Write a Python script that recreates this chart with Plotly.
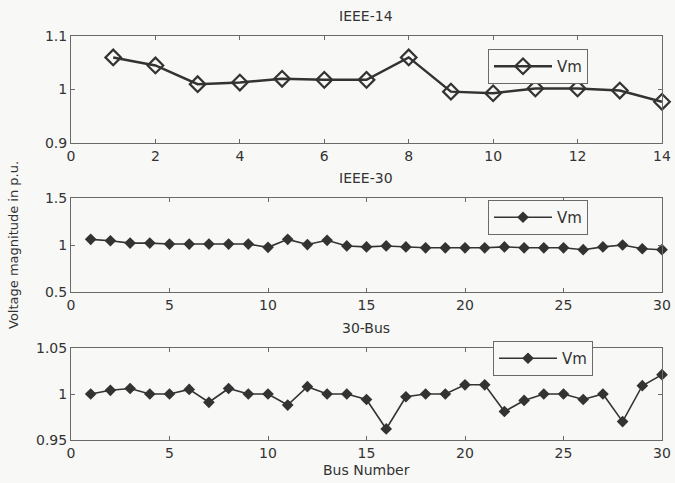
import plotly.graph_objects as go

# Bus voltage magnitudes (p.u.)
bus14 = list(range(1, 15))
vm14 = [1.060, 1.045, 1.010, 1.013, 1.020, 1.018, 1.018, 1.060,
        0.996, 0.993, 1.002, 1.002, 0.998, 0.977]

bus30 = list(range(1, 31))
vm_ieee30 = [1.06, 1.045, 1.02, 1.02, 1.01, 1.01, 1.01, 1.01, 1.01, 0.975,
             1.06, 1.005, 1.05, 0.99, 0.98, 0.99, 0.98, 0.97, 0.97, 0.97,
             0.97, 0.98, 0.97, 0.97, 0.97, 0.95, 0.98, 1.00, 0.96, 0.95]

vm_30bus = [1.000, 1.004, 1.006, 1.000, 1.000, 1.005, 0.991, 1.006, 1.000, 1.000,
            0.988, 1.008, 1.000, 1.000, 0.994, 0.962, 0.997, 1.000, 1.000, 1.010,
            1.010, 0.981, 0.993, 1.000, 1.000, 0.994, 1.000, 0.970, 1.009, 1.021]

titles = ["IEEE-14", "IEEE-30", "30-Bus"]

W, H = 675, 483
ink = "#333333"
frame = "#6a6a6a"
bg = "#f8f8f6"
font = "DejaVu Sans"

def py(p):
    return 1 - p / H

def px(p):
    return p / W

xdom = [px(71), px(662)]
ydoms = [[py(143), py(36)], [py(292), py(198)], [py(440), py(348)]]

fig = go.Figure()

fig.add_trace(go.Scatter(
    x=bus14, y=vm14, mode="lines+markers", name="Vm",
    line=dict(color=ink, width=2.5),
    marker=dict(symbol="diamond-open", size=12, color=ink, line=dict(width=2.2, color=ink)),
    cliponaxis=False,
    xaxis="x", yaxis="y", legend="legend", showlegend=True))

fig.add_trace(go.Scatter(
    x=bus30, y=vm_ieee30, mode="lines+markers", name="Vm",
    line=dict(color=ink, width=1.6),
    marker=dict(symbol="diamond", size=9, color=ink),
    cliponaxis=False,
    xaxis="x2", yaxis="y2", legend="legend2", showlegend=True))

fig.add_trace(go.Scatter(
    x=bus30, y=vm_30bus, mode="lines+markers", name="Vm",
    line=dict(color=ink, width=1.6),
    marker=dict(symbol="diamond", size=9, color=ink),
    cliponaxis=False,
    xaxis="x3", yaxis="y3", legend="legend3", showlegend=True))

axis_common = dict(showline=True, mirror="ticks", linecolor=frame, linewidth=1,
                   ticks="inside", ticklen=4, tickcolor=frame, showgrid=False,
                   zeroline=False, automargin=False,
                   tickfont=dict(family=font, size=14, color=ink))

fig.update_layout(
    width=W, height=H,
    margin=dict(l=0, r=0, t=0, b=0, autoexpand=False),
    paper_bgcolor=bg, plot_bgcolor=bg,
    showlegend=True,
    font=dict(family=font, color=ink),
    xaxis=dict(domain=xdom, range=[0, 14], tickvals=list(range(0, 15, 2)), anchor="y", **axis_common),
    yaxis=dict(domain=ydoms[0], range=[0.9, 1.1], tickvals=[0.9, 1.0, 1.1],
               ticktext=["0.9", "1", "1.1"], anchor="x", **axis_common),
    xaxis2=dict(domain=xdom, range=[0, 30], tickvals=list(range(0, 31, 5)), anchor="y2", **axis_common),
    yaxis2=dict(domain=ydoms[1], range=[0.5, 1.5], tickvals=[0.5, 1.0, 1.5],
                ticktext=["0.5", "1", "1.5"], anchor="x2", **axis_common),
    xaxis3=dict(domain=xdom, range=[0, 30], tickvals=list(range(0, 31, 5)), anchor="y3", **axis_common),
    yaxis3=dict(domain=ydoms[2], range=[0.95, 1.05], tickvals=[0.95, 1.0, 1.05],
                ticktext=["0.95", "1", "1.05"], anchor="x3", **axis_common),
)

legend_style = dict(bgcolor=bg, bordercolor=frame, borderwidth=1,
                    font=dict(family=font, size=15, color=ink),
                    xanchor="left", yanchor="top", itemwidth=58)
fig.update_layout(
    legend=dict(x=px(488), y=py(49), **legend_style),
    legend2=dict(x=px(488), y=py(200), **legend_style),
    legend3=dict(x=px(493), y=py(341), **legend_style),
)

title_y = [16, 178, 328]
for t, yy in zip(titles, title_y):
    fig.add_annotation(text=t, x=px(366), y=py(yy), xref="paper", yref="paper",
                       showarrow=False, xanchor="center", yanchor="middle",
                       font=dict(family=font, size=14, color=ink))

fig.add_annotation(text="Voltage magnitude in p.u.", x=px(13), y=py(245),
                   xref="paper", yref="paper", showarrow=False, textangle=-90,
                   xanchor="center", yanchor="middle",
                   font=dict(family=font, size=13, color=ink))
fig.add_annotation(text="Bus Number", x=px(366), y=py(470),
                   xref="paper", yref="paper", showarrow=False,
                   xanchor="center", yanchor="middle",
                   font=dict(family=font, size=14, color=ink))

fig.write_html("out.html")
